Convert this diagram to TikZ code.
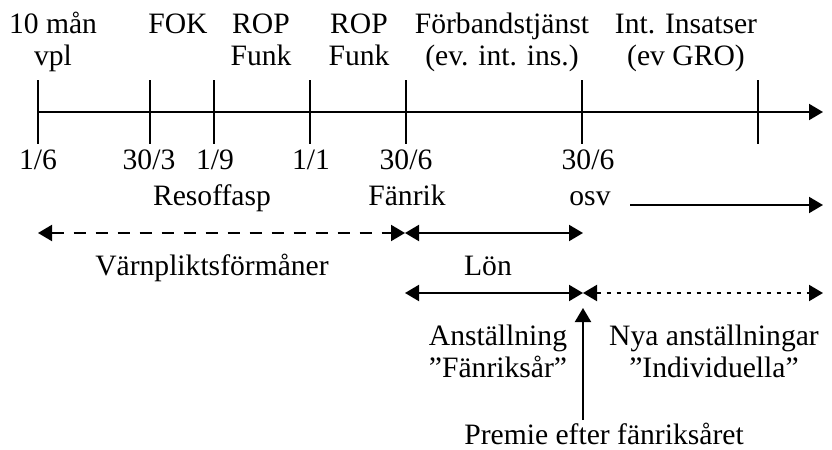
\documentclass[tikz,border=0pt]{standalone}
\usepackage{fontspec}
\setmainfont{Liberation Serif}
\usetikzlibrary{arrows.meta}
\tikzset{
  txt/.style={font=\fontsize{14.8}{16}\selectfont,inner sep=0pt,anchor=base,align=center},
  pil/.style={-{Triangle[length=7pt,width=8pt]}},
  dubbelpil/.style={{Triangle[length=7pt,width=8pt]}-{Triangle[length=7pt,width=8pt]}}
}

\begin{document}
\begin{tikzpicture}[x=0.5pt,y=-0.5pt,line width=1pt]
\useasboundingbox (0,0) rectangle (832,450);
\coordinate (start) at (38,112);
\coordinate (slut) at (823,112);
\draw[pil] (start) -- (slut);
\foreach \n/\x in {a/38,b/150,c/214,d/310,e/406,f/582,g/758}
{
  \coordinate (\n) at (\x,112);
  \draw ([yshift=16pt]\n) -- ([yshift=-16pt]\n);
}
\node[txt] (vpl) at (53,65) {10 mån\\vpl};
\node[txt] (fok) at (178,33) {FOK};
\node[txt] (rop1) at (261,65) {ROP\\Funk};
\node[txt] (rop2) at (359,65) {ROP\\Funk};
\node[txt] (forband) at (502,65) {Förbandstjänst\\(ev. int. ins.)};
\node[txt] (insats) at (686,65) {Int. Insatser\\(ev GRO)};
\node[txt] (d1) at (38,169) {1/6};
\node[txt] (d2) at (149,169) {30/3};
\node[txt] (d3) at (215,169) {1/9};
\node[txt] (d4) at (311,169) {1/1};
\node[txt] (d5) at (406,169) {30/6};
\node[txt] (d6) at (588,169) {30/6};
\node[txt] (resoff) at (212,205) {Resoffasp};
\node[txt] (fanrik) at (407,205) {Fänrik};
\node[txt] (osv) at (590,205) {osv};
\coordinate (osv1) at (630,205);
\coordinate (osv2) at (823,205);
\draw[pil] (osv1) -- (osv2);
\coordinate (v1) at (38,233);
\coordinate (v2) at (405,233);
\coordinate (v3) at (583,233);
\draw[dubbelpil,dash pattern=on 6pt off 5pt] (v1) -- (v2);
\draw[dubbelpil] (v2) -- (v3);
\node[txt] (forman) at (212,275) {Värnpliktsförmåner};
\node[txt] (lon) at (488,275) {Lön};
\coordinate (l1) at (405,293);
\coordinate (l2) at (583,293);
\coordinate (l3) at (823,293);
\draw[dubbelpil] (l1) -- (l2);
\draw[dubbelpil,dash pattern=on 2pt off 3pt] (l2) -- (l3);
\node[txt] (anst) at (498,377) {Anställning\\”Fänriksår”};
\node[txt] (nya) at (714,377) {Nya anställningar\\”Individuella”};
\node[txt] (premie) at (604,444) {Premie efter fänriksåret};
\coordinate (p1) at (583,420);
\coordinate (p2) at (583,308);
\draw[pil] (p1) -- (p2);
\end{tikzpicture}
\end{document}
